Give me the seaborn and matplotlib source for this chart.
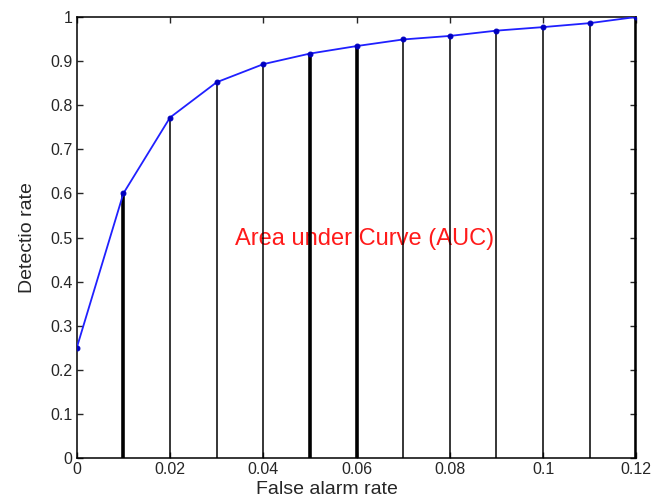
import numpy as np
import pandas as pd
import seaborn as sns
import matplotlib
matplotlib.use("Agg")
import matplotlib.pyplot as plt

# ROC points
false_alarm = [0.0, 0.01, 0.02, 0.03, 0.04, 0.05, 0.06, 0.07, 0.08, 0.09, 0.10, 0.11, 0.12]
detection = [0.25, 0.60, 0.772, 0.852, 0.893, 0.917, 0.934, 0.949, 0.957, 0.969, 0.977, 0.986, 1.0]
x_ticks = [0, 0.02, 0.04, 0.06, 0.08, 0.1, 0.12]
x_tick_labels = ["0", "0.02", "0.04", "0.06", "0.08", "0.1", "0.12"]
y_ticks = [0, 0.1, 0.2, 0.3, 0.4, 0.5, 0.6, 0.7, 0.8, 0.9, 1.0]
y_tick_labels = ["0", "0.1", "0.2", "0.3", "0.4", "0.5", "0.6", "0.7", "0.8", "0.9", "1"]
thick_at = [0.01, 0.05, 0.06, 0.12]

sns.set_style("white")
plt.rcParams["font.family"] = ["Liberation Sans", "DejaVu Sans"]

df = pd.DataFrame({"far": false_alarm, "dr": detection})

fig = plt.figure(figsize=(6.56, 4.99), dpi=100)
ax = fig.add_axes([0.117, 0.082, 0.853, 0.884])

# text sits under the vertical strips, as in the original
ax.text(0.0618, 0.497, "Area under Curve (AUC)", color="#ff1a1a", fontsize=17,
        ha="center", va="center", zorder=1)

# vertical strips under the curve
widths = [2.6 if any(abs(f - t) < 1e-9 for t in thick_at) else 1.1 for f in false_alarm]
ax.vlines(df["far"][1:], 0, df["dr"][1:], colors="black", linewidths=widths[1:], zorder=2)

sns.lineplot(data=df, x="far", y="dr", ax=ax, color="#2020ff", linewidth=1.3,
             marker="o", markersize=3.5, markeredgecolor="#0000c0",
             markerfacecolor="#0000c0", zorder=3)

ax.set_xlim(0, 0.12)
ax.set_ylim(0, 1)
ax.set_xticks(x_ticks)
ax.set_xticklabels(x_tick_labels)
ax.set_yticks(y_ticks)
ax.set_yticklabels(y_tick_labels)
ax.tick_params(direction="in", length=4, width=1, labelsize=11.5, top=True, right=True,
               bottom=True, left=True, pad=3)
for s in ax.spines.values():
    s.set_color("black")
    s.set_linewidth(1.1)
ax.set_xlabel("False alarm rate", fontsize=14)
ax.set_ylabel("Detectio rate", fontsize=14)
ax.xaxis.set_label_coords(0.447, -0.052)
ax.yaxis.set_label_coords(-0.072, 0.499)

fig.savefig("out.png", dpi=100)
